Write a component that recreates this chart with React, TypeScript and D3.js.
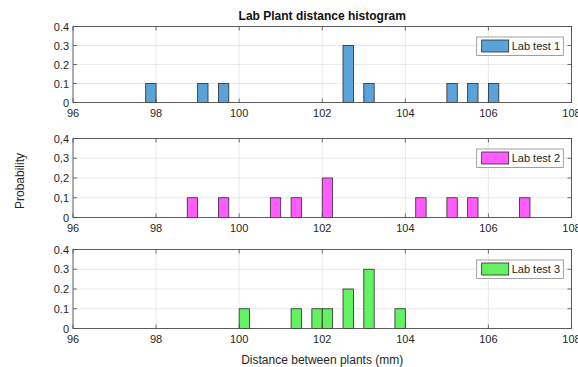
import React from "react";
import * as d3 from "d3";

const binWidth = 0.25;
const test1Left = [97.75, 99.0, 99.5, 102.5, 103.0, 105.0, 105.5, 106.0];
const test1Prob = [0.1, 0.1, 0.1, 0.3, 0.1, 0.1, 0.1, 0.1];
const test2Left = [98.75, 99.5, 100.75, 101.25, 102.0, 104.25, 105.0, 105.5, 106.75];
const test2Prob = [0.1, 0.1, 0.1, 0.1, 0.2, 0.1, 0.1, 0.1, 0.1];
const test3Left = [100.0, 101.25, 101.75, 102.0, 102.5, 103.0, 103.75];
const test3Prob = [0.1, 0.1, 0.1, 0.1, 0.2, 0.3, 0.1];

const xTicks = [96, 98, 100, 102, 104, 106, 108];
const yTicks = [0, 0.1, 0.2, 0.3, 0.4];
const seriesNames = ["Lab test 1", "Lab test 2", "Lab test 3"];
const seriesColors = ["#5aa3d8", "#ff5cff", "#62f262"];
const decimalSeps = [".", ",", "."];

const W = 578;
const H = 367;
const left = 73;
const right = 571.5;
const panels = [
  { top: 26.5, bottom: 102.5 },
  { top: 138.5, bottom: 217.5 },
  { top: 249.5, bottom: 328.5 },
];
const font = "Liberation Sans, Arial, Helvetica, sans-serif";

function Panel({ idx }: { idx: number }) {
  const { top, bottom } = panels[idx];
  const lefts = [test1Left, test2Left, test3Left][idx];
  const probs = [test1Prob, test2Prob, test3Prob][idx];
  const x = d3.scaleLinear().domain([96, 108]).range([left, right]);
  const y = d3.scaleLinear().domain([0, 0.4]).range([bottom, top]);
  const color = seriesColors[idx];
  const fmt = (v: number) =>
    v === 0 ? "0" : d3.format(".1f")(v).replace(".", decimalSeps[idx]);
  const tl = 4;
  const axisColor = "#4d4d4d";
  const lgX = 476.7;
  const lgY = top + 10.5;
  const lgW = 86.6;
  const lgH = 18.5;
  return (
    <g>
      <rect x={left} y={top} width={right - left} height={bottom - top} fill="#fff" />
      {xTicks.slice(1, -1).map((t) => (
        <line key={"gx" + t} x1={x(t)} x2={x(t)} y1={top} y2={bottom} stroke="#e3e3e3" strokeWidth={0.8} />
      ))}
      {yTicks.slice(1, -1).map((t) => (
        <line key={"gy" + t} x1={left} x2={right} y1={y(t)} y2={y(t)} stroke="#e3e3e3" strokeWidth={0.8} />
      ))}
      {lefts.map((l, i) => (
        <rect
          key={"b" + i}
          x={x(l)}
          y={y(probs[i])}
          width={x(l + binWidth) - x(l)}
          height={y(0) - y(probs[i])}
          fill={color}
          stroke="#2a2a2a"
          strokeWidth={0.8}
        />
      ))}
      <rect x={left} y={top} width={right - left} height={bottom - top} fill="none" stroke={axisColor} strokeWidth={0.9} />
      {xTicks.map((t) => (
        <g key={"tx" + t}>
          <line x1={x(t)} x2={x(t)} y1={bottom} y2={bottom - tl} stroke={axisColor} strokeWidth={0.8} />
          <line x1={x(t)} x2={x(t)} y1={top} y2={top + tl} stroke={axisColor} strokeWidth={0.8} />
          <text x={x(t)} y={bottom + 14} textAnchor="middle" fontSize={11} fill="#262626" fontFamily={font}>
            {t}
          </text>
        </g>
      ))}
      {yTicks.map((t) => (
        <g key={"ty" + t}>
          <line x1={left} x2={left + tl} y1={y(t)} y2={y(t)} stroke={axisColor} strokeWidth={0.8} />
          <line x1={right} x2={right - tl} y1={y(t)} y2={y(t)} stroke={axisColor} strokeWidth={0.8} />
          <text x={left - 4} y={y(t) + 4} textAnchor="end" fontSize={11} fill="#262626" fontFamily={font}>
            {fmt(t)}
          </text>
        </g>
      ))}
      <rect x={lgX} y={lgY} width={lgW} height={lgH} fill="#fff" stroke="#8a8a8a" strokeWidth={0.8} />
      <rect x={lgX + 5} y={lgY + 3} width={27} height={lgH - 6.5} fill={color} stroke="#2a2a2a" strokeWidth={0.8} />
      <text x={lgX + 35} y={lgY + 13} fontSize={11} fill="#262626" fontFamily={font}>
        {seriesNames[idx]}
      </text>
    </g>
  );
}

export default function App() {
  return (
    <svg
      width={W}
      height={H}
      style={{ position: "absolute", left: 0, top: 0, background: "#fff" }}
    >
      <rect x={0} y={0} width={W} height={H} fill="#fff" />
      <text x={(left + right) / 2} y={20} textAnchor="middle" fontSize={12} fontWeight="bold" fill="#111" fontFamily={font}>
        Lab Plant distance histogram
      </text>
      {[0, 1, 2].map((i) => (
        <Panel key={i} idx={i} />
      ))}
      <text
        transform={`translate(24, 181) rotate(-90)`}
        textAnchor="middle"
        fontSize={12}
        fill="#262626"
        fontFamily={font}
      >
        Probability
      </text>
      <text x={(left + right) / 2} y={364} textAnchor="middle" fontSize={12} fill="#262626" fontFamily={font}>
        Distance between plants (mm)
      </text>
    </svg>
  );
}
